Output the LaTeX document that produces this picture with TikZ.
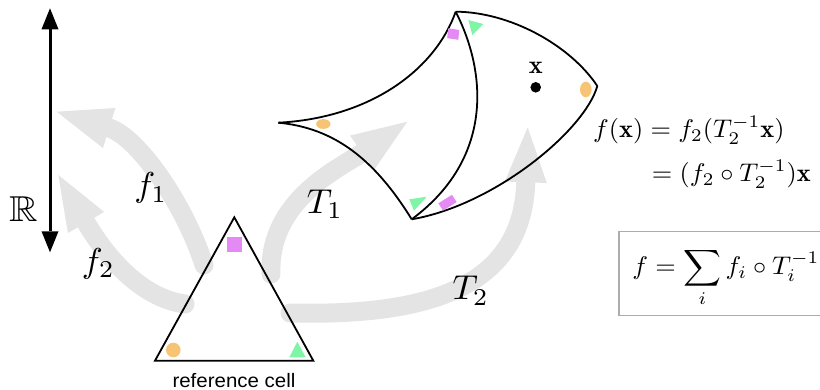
\RequirePackage{fix-cm}
\documentclass[tikz,border=0pt]{standalone}
\usepackage{amsmath,amssymb}
\usepackage{graphicx}
\usepackage{fontspec}
\newfontfamily\helv{Liberation Sans}
\usetikzlibrary{arrows.meta,shapes.geometric}
\definecolor{pinkm}{RGB}{229,137,245}
\definecolor{orangem}{RGB}{247,196,117}
\definecolor{greenm}{RGB}{128,245,168}
\definecolor{arrowgray}{RGB}{228,228,228}
\definecolor{boxgray}{RGB}{172,172,172}
\newcommand{\eqbig}[1]{\scalebox{2.63}[2.55]{#1}}
\newcommand{\labbig}[1]{\scalebox{3.5}[3.45]{#1}}
\begin{document}
\begin{tikzpicture}[x=1pt,y=-1pt,
  garrow/.style={draw=arrowgray, line width=19pt, line cap=round,
    -{Triangle[length=55pt,width=42pt,line width=0pt]}},
  celledge/.style={draw=black, line width=1.8pt, line join=round},
  lab/.style={inner sep=0pt, font=\normalsize},
  eqn/.style={inner sep=0pt, font=\normalsize},
]
\useasboundingbox (0,0) rectangle (820,390);
\clip (0,0) rectangle (820,390);

% arrow end points
\coordinate (f1s) at (204,265);  \coordinate (f1e) at (56.7,111.7);
\coordinate (f2s) at (185,304);  \coordinate (f2e) at (58.3,175);
\coordinate (t1s) at (271,274);  \coordinate (t1e) at (407.3,121.7);
\coordinate (t2s) at (290,313);  \coordinate (t2e) at (527.7,127.3);

% gray map arrows
\draw[garrow] (f1s) .. controls (185,205) and (138,137) .. (f1e);
\draw[garrow] (f2s) .. controls (140,298) and (105,255) .. (f2e);
\draw[garrow] (t1s) .. controls (268,200) and (340,168) .. (t1e);
\draw[garrow] (t2s) .. controls (420,316) and (522,292) .. (t2e);

% real line
\coordinate (rtop) at (50,8.3);
\coordinate (rbot) at (50,252.3);
\draw[line width=3pt,
  {Triangle[length=21pt,width=17pt,line width=0pt]}-{Triangle[length=21pt,width=17pt,line width=0pt]}]
  (rtop) -- (rbot);
\node[lab] (R) at (23.3,209.2) {\scalebox{3.95}[3.6]{$\mathbb{R}$}};

% reference triangle
\coordinate (P1) at (234.3,217.3);
\coordinate (P2) at (155,360.7);
\coordinate (P3) at (313.3,360.7);
\draw[celledge, line join=miter] (P1) -- (P2) -- (P3) -- cycle;
\fill[pinkm] (227.3,237.3) rectangle (241.7,251.7);
\fill[orangem] (173.3,350) circle (7.3);
\fill[greenm] (289.3,357.3) -- (297.3,341.7) -- (305.7,357.3) -- cycle;
\node[inner sep=0pt, anchor=base, font=\helv\fontsize{19.5}{23}\selectfont] (cap) at (234,387.2) {\scalebox{1.05}[1]{reference cell}};

% warped cells
\coordinate (A) at (455.7,11.7);
\coordinate (B) at (278.3,122.7);
\coordinate (C) at (411.7,219.3);
\coordinate (D) at (597.3,86);
\draw[celledge] (A) .. controls (435,70) and (370,118) .. (B);
\draw[celledge] (B) .. controls (335,128) and (375,160) .. (C);
\draw[celledge] (A) .. controls (488,75) and (492,160) .. (C);
\draw[celledge] (A) .. controls (510,12) and (570,45) .. (D);
\draw[celledge] (D) .. controls (585,130) and (495,205) .. (C);

% markers on warped cells
\fill[pinkm] (448.3,28.3) -- (459.3,30) -- (458.3,39.8) -- (447.2,38.1) -- cycle;
\fill[greenm] (468.3,20) -- (483.3,24) -- (472.3,35) -- cycle;
\fill[orangem] (323.3,124) ellipse [x radius=7.2, y radius=4.9];
\fill[greenm] (409.3,199.3) -- (426.7,196.7) -- (414,210.7) -- cycle;
\fill[pinkm] (438.4,203.3) -- (452.0,194.8) -- (456.6,202.1) -- (443.0,210.6) -- cycle;
\fill[orangem] (585.8,89.5) ellipse [x radius=5.8, y radius=7.8];
\fill[black] (535.7,87.3) circle (5.3);
\node[eqn] (xl) at (535.8,67.5) {\eqbig{$\mathbf{x}$}};

% labels
\node[lab] (lf1) at (150.8,188.3) {\labbig{$f_1$}};
\node[lab] (lf2) at (98.3,264.2) {\labbig{$f_2$}};
\node[lab] (lt1) at (325,204) {\labbig{$T_1$}};
\node[lab] (lt2) at (470.8,290.8) {\labbig{$T_2$}};

% formulas
\node[eqn, anchor=base west] (eq1) at (593,138) {\eqbig{$f(\mathbf{x}) = f_2(T_2^{-1}\mathbf{x})$}};
\node[eqn, anchor=base west] (eq2) at (651.7,182) {\eqbig{$= (f_2\circ T_2^{-1})\mathbf{x}$}};
\node[draw=boxgray, line width=1.5pt, anchor=base west, inner xsep=13.4pt, inner ysep=0pt,
  text height=43pt, text depth=41pt, font=\normalsize] (sum) at (618.3,274.5)
  {\eqbig{$\displaystyle f = \sum_i f_i \circ T_i^{-1}$}};
\end{tikzpicture}
\end{document}
